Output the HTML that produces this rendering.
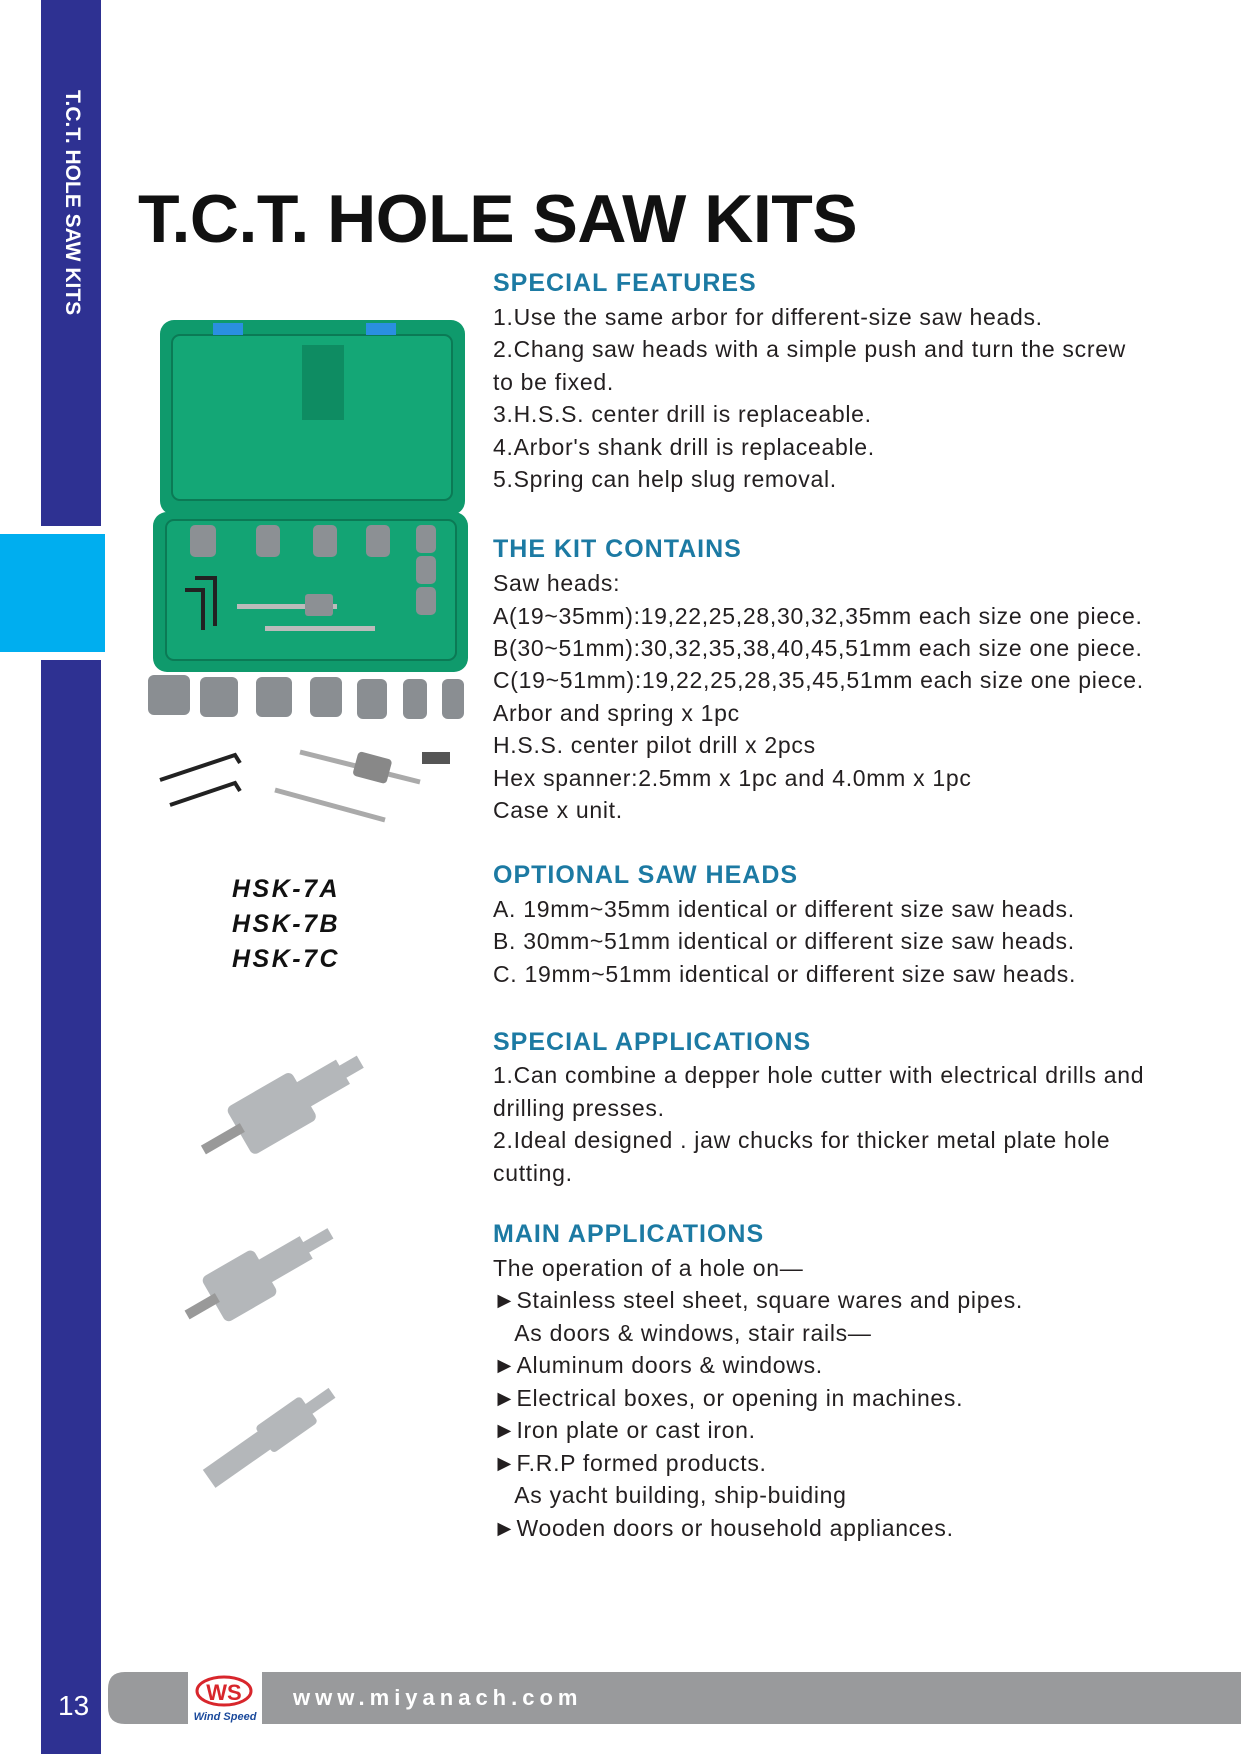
<!DOCTYPE html>
<html><head><meta charset="utf-8"><style>
body{margin:0;width:1241px;height:1754px;position:relative;background:#fff;font-family:"Liberation Sans",sans-serif;overflow:hidden}
.a{position:absolute}
.t{position:absolute;left:493px;height:32px;line-height:32px;font-size:23px;color:#231f20;white-space:nowrap;letter-spacing:0.7px}
.h{position:absolute;left:493px;height:32px;line-height:32px;font-size:25px;font-weight:bold;color:#1c7aa3;white-space:nowrap;letter-spacing:1px}
.k{position:absolute;left:232px;font-size:25px;font-weight:bold;font-style:italic;color:#111;letter-spacing:2.5px}
</style></head><body>
<div class="a" style="left:41px;top:0;width:60px;height:526px;background:#2e3192"></div>
<div class="a" style="left:0;top:534px;width:105px;height:118px;background:#00aeef"></div>
<div class="a" style="left:41px;top:660px;width:60px;height:1094px;background:#2e3192"></div>
<div class="a" style="left:-38px;top:186px;width:220px;height:28px;line-height:28px;transform:rotate(90deg);color:#fff;font-weight:bold;font-size:21px;text-align:center;white-space:nowrap">T.C.T. HOLE SAW KITS</div>
<div class="a" style="left:138px;top:180px;font-size:68px;font-weight:bold;color:#111;white-space:nowrap;letter-spacing:-0.5px">T.C.T. HOLE SAW KITS</div>

<div class="h" style="top:267px">SPECIAL FEATURES</div>
<div class="t" style="top:301px">1.Use the same arbor for different-size saw heads.</div>
<div class="t" style="top:333px">2.Chang saw heads with a simple push and turn the screw</div>
<div class="t" style="top:366px">to be fixed.</div>
<div class="t" style="top:398px">3.H.S.S. center drill is replaceable.</div>
<div class="t" style="top:431px">4.Arbor's shank drill is replaceable.</div>
<div class="t" style="top:463px">5.Spring can help slug removal.</div>

<div class="h" style="top:533px">THE KIT CONTAINS</div>
<div class="t" style="top:567px">Saw heads:</div>
<div class="t" style="top:600px">A(19~35mm):19,22,25,28,30,32,35mm each size one piece.</div>
<div class="t" style="top:632px">B(30~51mm):30,32,35,38,40,45,51mm each size one piece.</div>
<div class="t" style="top:664px">C(19~51mm):19,22,25,28,35,45,51mm each size one piece.</div>
<div class="t" style="top:697px">Arbor and spring x 1pc</div>
<div class="t" style="top:729px">H.S.S. center pilot drill x 2pcs</div>
<div class="t" style="top:762px">Hex spanner:2.5mm x 1pc and 4.0mm x 1pc</div>
<div class="t" style="top:794px">Case x unit.</div>

<div class="h" style="top:859px">OPTIONAL SAW HEADS</div>
<div class="t" style="top:893px">A. 19mm~35mm identical or different size saw heads.</div>
<div class="t" style="top:925px">B. 30mm~51mm identical or different size saw heads.</div>
<div class="t" style="top:958px">C. 19mm~51mm identical or different size saw heads.</div>

<div class="h" style="top:1026px">SPECIAL APPLICATIONS</div>
<div class="t" style="top:1059px">1.Can combine a depper hole cutter with electrical drills and</div>
<div class="t" style="top:1092px">drilling presses.</div>
<div class="t" style="top:1124px">2.Ideal designed . jaw chucks for thicker metal plate hole</div>
<div class="t" style="top:1157px">cutting.</div>

<div class="h" style="top:1218px">MAIN APPLICATIONS</div>
<div class="t" style="top:1252px">The operation of a hole on—</div>
<div class="t" style="top:1284px">►Stainless steel sheet, square wares and pipes.</div>
<div class="t" style="top:1317px">&nbsp;&nbsp;&nbsp;As doors &amp; windows, stair rails—</div>
<div class="t" style="top:1349px">►Aluminum doors &amp; windows.</div>
<div class="t" style="top:1382px">►Electrical boxes, or opening in machines.</div>
<div class="t" style="top:1414px">►Iron plate or cast iron.</div>
<div class="t" style="top:1447px">►F.R.P formed products.</div>
<div class="t" style="top:1479px">&nbsp;&nbsp;&nbsp;As yacht building, ship-buiding</div>
<div class="t" style="top:1512px">►Wooden doors or household appliances.</div>

<div class="k" style="top:875px">HSK-7A</div>
<div class="k" style="top:910px">HSK-7B</div>
<div class="k" style="top:945px">HSK-7C</div>

<svg class="a" style="left:0;top:0" width="1241" height="1754">
<rect x="160" y="320" width="305" height="195" rx="14" fill="#0f9a6c"/>
<rect x="172" y="335" width="280" height="165" rx="8" fill="#14a776" stroke="#0b7a55" stroke-width="2"/>
<rect x="213" y="323" width="30" height="12" fill="#2a8fe0"/>
<rect x="366" y="323" width="30" height="12" fill="#2a8fe0"/>
<rect x="302" y="345" width="42" height="75" fill="#0e8c62"/>
<rect x="153" y="512" width="315" height="160" rx="14" fill="#0f9a6c"/>
<rect x="166" y="520" width="290" height="140" rx="8" fill="#13a474" stroke="#0b7a55" stroke-width="2"/>
<g fill="#8c9094">
<rect x="190" y="525" width="26" height="32" rx="5"/><rect x="256" y="525" width="24" height="32" rx="5"/><rect x="313" y="525" width="24" height="32" rx="5"/><rect x="366" y="525" width="24" height="32" rx="5"/>
<rect x="416" y="525" width="20" height="28" rx="5"/><rect x="416" y="556" width="20" height="28" rx="5"/><rect x="416" y="587" width="20" height="28" rx="5"/>
<rect x="237" y="604" width="100" height="5" fill="#bbb"/><rect x="305" y="594" width="28" height="22" rx="3"/><rect x="265" y="626" width="110" height="5" fill="#bbb"/>
</g>
<path d="M195 578h20v48" stroke="#222" stroke-width="4" fill="none"/><path d="M185 590h18v40" stroke="#222" stroke-width="4" fill="none"/>
<g fill="#8a8e92">
<rect x="148" y="675" width="42" height="40" rx="6"/><rect x="200" y="677" width="38" height="40" rx="6"/><rect x="256" y="677" width="36" height="40" rx="6"/><rect x="310" y="677" width="32" height="40" rx="6"/><rect x="357" y="679" width="30" height="40" rx="6"/><rect x="403" y="679" width="24" height="40" rx="6"/><rect x="442" y="679" width="22" height="40" rx="6"/>
</g>
<path d="M160 780l75-25 5 8M170 805l65-22 5 8" stroke="#222" stroke-width="4" fill="none"/>
<path d="M300 752l120 30M275 790l110 30" stroke="#aaa" stroke-width="5"/>
<rect x="355" y="755" width="35" height="25" rx="4" fill="#888" transform="rotate(15 372 767)"/>
<rect x="422" y="752" width="28" height="12" fill="#555"/>
<g fill="#b4b7ba">
<g transform="rotate(-30 290 1100)"><rect x="230" y="1075" width="75" height="55" rx="6"/><rect x="300" y="1088" width="50" height="28"/><rect x="345" y="1095" width="25" height="14"/><rect x="190" y="1095" width="45" height="10" fill="#999"/></g>
<g transform="rotate(-30 265 1270)"><rect x="205" y="1245" width="60" height="52" rx="6"/><rect x="262" y="1258" width="50" height="26"/><rect x="310" y="1265" width="30" height="12"/><rect x="175" y="1265" width="35" height="10" fill="#999"/></g>
<g transform="rotate(-35 270 1435)"><rect x="195" y="1425" width="70" height="22"/><rect x="262" y="1420" width="55" height="32" rx="4"/><rect x="315" y="1430" width="30" height="12"/></g>
</g>
<path d="M125 1672H1241V1724H125q-17 0-17-17v-18q0-17 17-17z" fill="#999a9c"/>
<rect x="188" y="1672" width="74" height="52" fill="#fff"/>
<ellipse cx="224" cy="1691" rx="27" ry="14" fill="none" stroke="#d8262c" stroke-width="3"/>
<text x="224" y="1700" font-family="Liberation Sans" font-weight="bold" font-size="22" fill="#d8262c" text-anchor="middle">WS</text>
<text x="225" y="1720" font-family="Liberation Sans" font-weight="bold" font-style="italic" font-size="11" fill="#1b4a9c" text-anchor="middle">Wind Speed</text>
<text x="293" y="1705" font-family="Liberation Sans" font-weight="bold" font-size="22" fill="#fff" letter-spacing="5">www.miyanach.com</text>
<text x="58" y="1715" font-family="Liberation Sans" font-size="28" fill="#fff">13</text>
</svg>
</body></html>
